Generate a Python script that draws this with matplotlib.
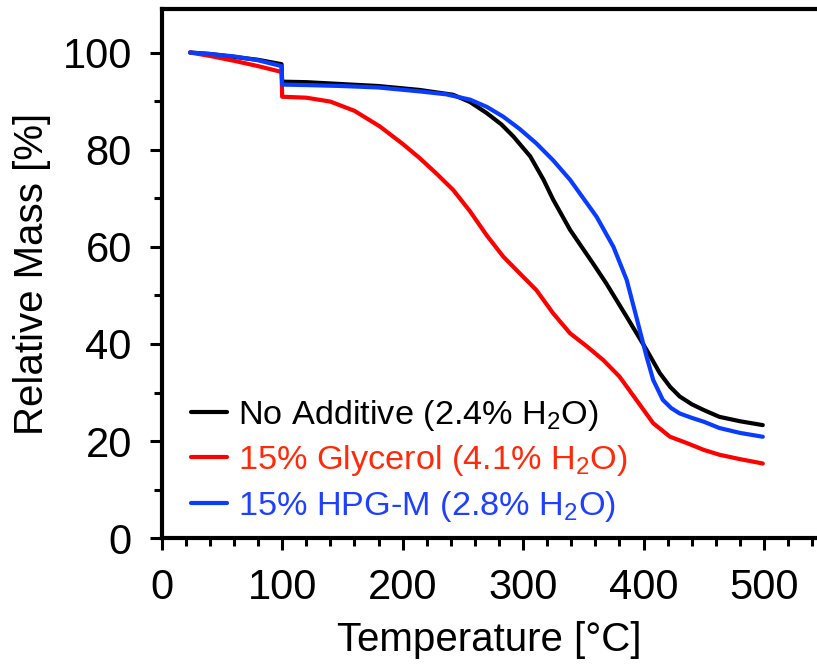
import matplotlib
matplotlib.use("Agg")
import matplotlib.pyplot as plt
from matplotlib.ticker import MultipleLocator

plt.rcParams['font.family'] = ['Liberation Sans', 'DejaVu Sans']
plt.rcParams['mathtext.fontset'] = 'custom'
plt.rcParams['mathtext.rm'] = 'Liberation Sans'
plt.rcParams['mathtext.it'] = 'Liberation Sans'

# ---- data ----
t_none = [23.5, 40, 60, 80, 99.5, 100, 120, 150, 180, 214, 242, 256, 270, 282, 292, 306, 317, 325,
          339, 350, 358, 369, 386, 402.5, 413.5, 422, 430, 440, 450, 463, 480, 499]
m_none = [100, 99.7, 99.1, 98.5, 97.6, 94.0, 93.9, 93.5, 93.1, 92.3, 91.3, 89.8, 87.5, 85.2, 82.7, 78.6, 73.8, 69.7,
          63.5, 59.5, 56.6, 52.5, 45.6, 38.8, 34.0, 31.2, 29.2, 27.6, 26.4, 25.0, 24.1, 23.3]

t_gly = [23.5, 40, 60, 80, 99.5, 100, 120, 140, 160, 181, 200, 214, 228, 242, 256, 270, 283.5, 297, 311,
         325, 339, 353, 366.5, 380, 394, 408, 422, 436, 450, 463, 480, 499]
m_gly = [100, 99.3, 98.3, 97.2, 96.0, 90.9, 90.7, 89.9, 88.0, 84.8, 81.2, 78.3, 75.1, 71.7, 67.3, 62.3, 58.0, 54.6, 51.1,
         46.3, 42.2, 39.5, 36.7, 33.3, 28.5, 23.7, 20.9, 19.6, 18.2, 17.2, 16.3, 15.4]

t_hpg = [23.5, 40, 60, 80, 99.5, 100, 120, 150, 180, 214, 236, 256, 270, 283.5, 297, 311, 325, 339,
         350, 361, 375, 386, 394, 402.5, 408, 416, 423, 430, 440, 450, 463, 480, 499]
m_hpg = [100, 99.7, 99.2, 98.4, 97.2, 93.4, 93.3, 93.1, 92.8, 92.0, 91.4, 90.3, 88.8, 86.8, 84.3, 81.3, 77.8, 73.8,
         70.0, 66.2, 60.0, 53.2, 45.6, 37.4, 32.6, 28.5, 26.8, 25.7, 24.8, 24.0, 22.7, 21.7, 20.9]

labels = ["No Additive (2.4% H$_2$O)", "15% Glycerol (4.1% H$_2$O)", "15% HPG-M (2.8% H$_2$O)"]
line_colors = ["#000000", "#ff0000", "#0a3cff"]
text_colors = ["#000000", "#ff2a0a", "#1f40ff"]

fig = plt.figure(figsize=(8.17, 6.65), dpi=100)
ax = fig.add_axes([161.7 / 817, (665 - 538.3) / 665, 1 - 161.7 / 817, (538.3 - 8.8) / 665])

for t, m, c, lab in zip([t_none, t_gly, t_hpg], [m_none, m_gly, m_hpg], line_colors, labels):
    ax.plot(t, m, color=c, lw=3.0, label=lab, solid_joinstyle='round', solid_capstyle='round')

ax.set_xlim(0, 544)
ax.set_ylim(0, 109)
ax.xaxis.set_major_locator(MultipleLocator(100))
ax.xaxis.set_minor_locator(MultipleLocator(20))
ax.yaxis.set_major_locator(MultipleLocator(20))
ax.yaxis.set_minor_locator(MultipleLocator(10))
ax.spines['right'].set_visible(False)
for s in ['left', 'bottom', 'top']:
    ax.spines[s].set_linewidth(3.0)
ax.tick_params(which='major', direction='out', length=8.5, width=2.2, labelsize=30)
ax.tick_params(axis='y', which='major', pad=13)
ax.tick_params(axis='x', which='major', pad=13)
ax.tick_params(which='minor', direction='out', length=5.5, width=2.2)

ax.set_xlabel("Temperature [°C]", fontsize=29, labelpad=9)
ax.set_ylabel("Relative Mass [%]", fontsize=29, labelpad=8)

leg = ax.legend(loc='lower left', bbox_to_anchor=(0.019, -0.005), frameon=False, fontsize=24.7,
                handlelength=1.05, handletextpad=0.3, labelspacing=0.31, borderpad=0.0,
                labelcolor=text_colors)
for h in leg.get_lines():
    h.set_linewidth(3.0)

fig.savefig("out.png", dpi=100)
